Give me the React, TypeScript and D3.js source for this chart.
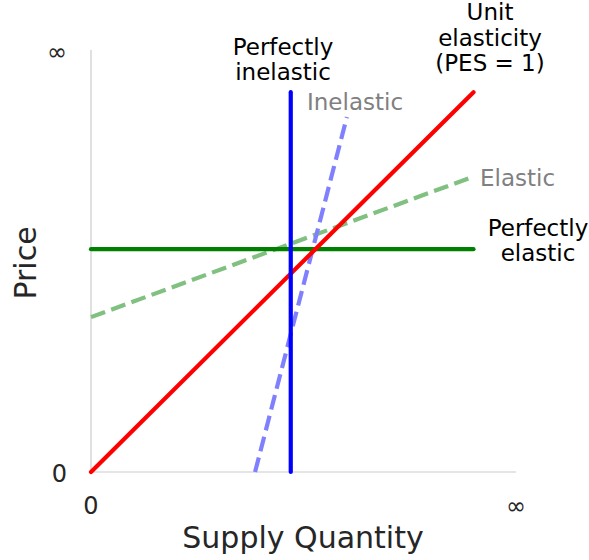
import * as d3 from "d3";

// lines in data units (axes run 0 .. 10, where 10 stands for infinity)
const unitX = [0, 9];
const unitY = [0, 9];
const perfectlyInelasticX = [4.7, 4.7];
const perfectlyInelasticY = [0, 9];
const perfectlyElasticX = [0, 9];
const perfectlyElasticY = [5.28, 5.28];
const elasticX = [0, 9];
const elasticY = [3.67, 7.0];
const inelasticX = [3.86, 6.02];
const inelasticY = [0, 8.41];

const xTicks = [0, 10];
const xTickLabels = ["0", "∞"];
const yTicks = [0, 10];
const yTickLabels = ["0", "∞"];

const W = 589;
const H = 560;
const font = "DejaVu Sans, sans-serif";

const x = d3.scaleLinear().domain([0, 10]).range([91, 516]);
const y = d3.scaleLinear().domain([0, 10]).range([472, 50]);

const line = d3
  .line<[number, number]>()
  .x((d) => x(d[0]))
  .y((d) => y(d[1]));

function pts(xs: number[], ys: number[]): [number, number][] {
  return xs.map((v, i) => [v, ys[i]]);
}

const series = [
  { xs: elasticX, ys: elasticY, color: "#80c080", dash: "15,6.5" },
  { xs: inelasticX, ys: inelasticY, color: "#8080ff", dash: "15,6.5" },
  { xs: perfectlyElasticX, ys: perfectlyElasticY, color: "#008000", dash: null },
  { xs: unitX, ys: unitY, color: "#ff0000", dash: null },
  { xs: perfectlyInelasticX, ys: perfectlyInelasticY, color: "#0000ff", dash: null },
];

export default function App() {
  return (
    <svg width={W} height={H} style={{ position: "absolute", left: 0, top: 0 }}>
      <rect width={W} height={H} fill="#fff" />
      {/* spines */}
      <line x1={x(0)} x2={x(0)} y1={y(0)} y2={y(10)} stroke="#cccccc" strokeWidth={1.2} />
      <line x1={x(0)} x2={x(10)} y1={y(0)} y2={y(0)} stroke="#cccccc" strokeWidth={1.2} />

      {series.map((s, i) => (
        <path
          key={i}
          d={line(pts(s.xs, s.ys)) || ""}
          fill="none"
          stroke={s.color}
          strokeWidth={4.2}
          strokeDasharray={s.dash || undefined}
          strokeLinecap={s.dash ? "butt" : "round"}
        />
      ))}

      {/* tick labels */}
      <g fontFamily={font} fontSize={24} fill="#262626">
        {yTicks.map((t, i) => (
          <text key={"y" + i} x={67} y={y(t) + 1.5} dy="0.35em" textAnchor="end">
            {yTickLabels[i]}
          </text>
        ))}
        {xTicks.map((t, i) => (
          <text key={"x" + i} x={x(t)} y={506} dy="0.35em" textAnchor="middle">
            {xTickLabels[i]}
          </text>
        ))}
      </g>

      {/* axis labels */}
      <text x={303} y={548} fontFamily={font} fontSize={30} fill="#262626" textAnchor="middle">
        Supply Quantity
      </text>
      <text
        transform={`translate(${36},${263}) rotate(-90)`}
        fontFamily={font}
        fontSize={30}
        fill="#262626"
        textAnchor="middle"
      >
        Price
      </text>

      {/* annotations */}
      <g fontFamily={font} fontSize={23} fill="#000" textAnchor="middle">
        <text x={283} y={55}>Perfectly</text>
        <text x={283} y={80}>inelastic</text>
        <text x={490} y={20}>Unit</text>
        <text x={490} y={46}>elasticity</text>
        <text x={490} y={71}>(PES = 1)</text>
        <text x={538} y={236}>Perfectly</text>
        <text x={538} y={261}>elastic</text>
      </g>
      <g fontFamily={font} fontSize={23} fill="#808080">
        <text x={307} y={110}>Inelastic</text>
        <text x={480} y={186}>Elastic</text>
      </g>
    </svg>
  );
}
